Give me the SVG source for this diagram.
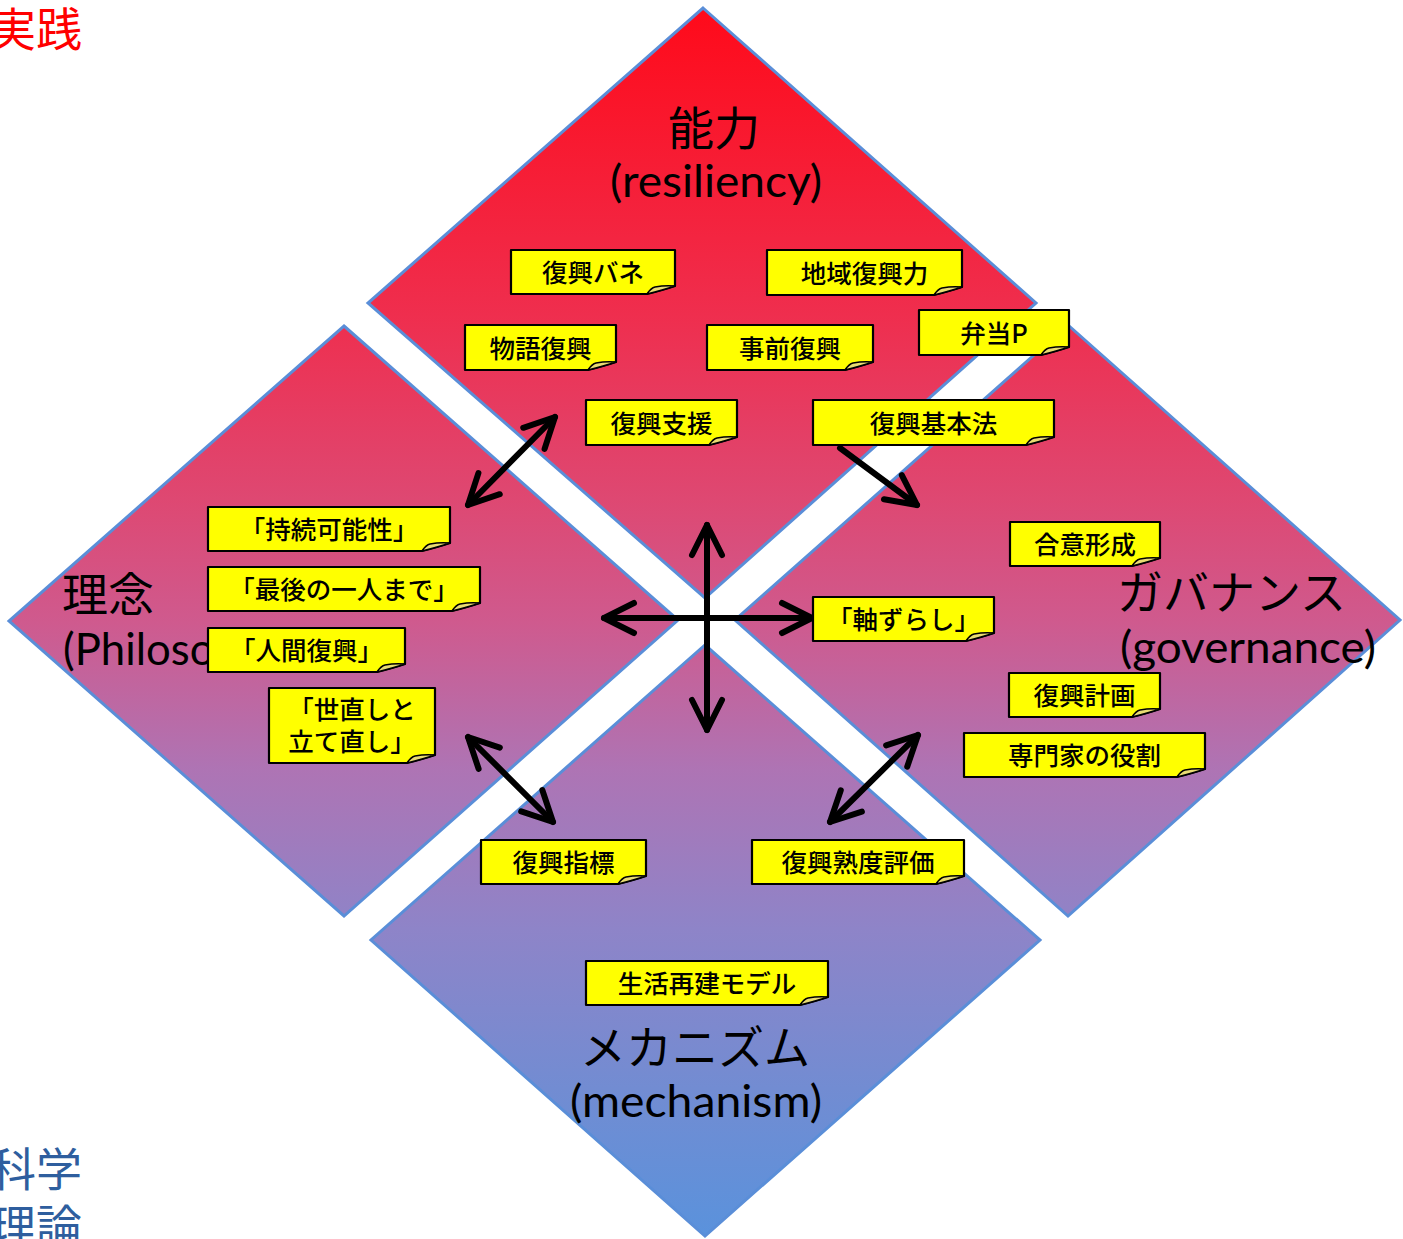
<svg xmlns="http://www.w3.org/2000/svg" width="1403" height="1239" viewBox="0 0 1403 1239">
<style>
.dia{fill:url(#g);stroke:#5a8ed8;stroke-width:3;stroke-linejoin:miter}
.note{fill:#ffff00;stroke:#000;stroke-width:2.2;stroke-linejoin:round}
.fold{fill:#e9dc72;stroke:#000;stroke-width:1.5;stroke-linejoin:round}
.nt{font-family:"Noto Sans CJK JP","Noto Sans",sans-serif;font-size:25.5px;font-weight:500;fill:#000;text-anchor:middle}
.jt{font-family:"Noto Sans CJK JP",sans-serif;font-size:46px;fill:#000}
.lt{font-family:Lato,"Open Sans",sans-serif;font-size:44px;fill:#000}
.cn{stroke:#000;stroke-width:6;stroke-linecap:round;fill:none}
</style>
<defs>
<linearGradient id="g" gradientUnits="userSpaceOnUse" x1="0" y1="8" x2="0" y2="1236">
<stop offset="0" stop-color="#ff0a1a"/>
<stop offset="0.25" stop-color="#ef2e4e"/>
<stop offset="0.4" stop-color="#de4872"/>
<stop offset="0.5" stop-color="#cf5a8e"/>
<stop offset="0.62" stop-color="#ae74b4"/>
<stop offset="0.75" stop-color="#8e84c8"/>
<stop offset="0.88" stop-color="#728cd2"/>
<stop offset="1" stop-color="#5a92dc"/>
</linearGradient>
<marker id="ah" viewBox="-36 -20 42 40" refX="0" refY="0" markerWidth="42" markerHeight="40" orient="auto-start-reverse" markerUnits="userSpaceOnUse">
<path d="M-30,-15 L0,0 L-30,15" fill="none" stroke="#000" stroke-width="6" stroke-linecap="round" stroke-linejoin="round"/>
</marker>
</defs>
<rect width="1403" height="1239" fill="#fff"/>

<g id="diamond-resiliency">
<path class="dia" d="M703,8 L1036,303 L705,598 L368,303 Z"/>
<text class="jt" x="714" y="145" text-anchor="middle">能力</text>
<text class="lt" x="610" y="197" textLength="212" lengthAdjust="spacingAndGlyphs">(resiliency)</text>
</g>
<g id="diamond-philosophy">
<path class="dia" d="M344,326 L678,620 L344,916 L9,621 Z"/>
<text class="jt" x="62" y="611">理念</text>
<text class="lt" x="63" y="665" textLength="233" lengthAdjust="spacingAndGlyphs">(Philosophy)</text>
</g>
<g id="diamond-governance">
<path class="dia" d="M1068,325 L1400,620 L1068,916 L735,620 Z"/>
<text class="jt" x="1117" y="609">ガバナンス</text>
<text class="lt" x="1120" y="663" textLength="256" lengthAdjust="spacingAndGlyphs">(governance)</text>
</g>
<g id="diamond-mechanism">
<path class="dia" d="M705,645 L1040,940 L705,1236 L371,940 Z"/>
<text class="jt" x="695" y="1064" text-anchor="middle">メカニズム</text>
<text class="lt" x="570" y="1117" textLength="252" lengthAdjust="spacingAndGlyphs">(mechanism)</text>
</g>

<g id="side-labels">
<text class="jt" x="82" y="46" text-anchor="end" style="fill:#ff0000">実践</text>
<text class="jt" text-anchor="end" style="fill:#2e5e9e"><tspan x="82" y="1186">科学</tspan><tspan x="82" y="1243">理論</tspan></text>
</g>

<g id="connectors">
<path class="cn" d="M468,505 L555,417" marker-start="url(#ah)" marker-end="url(#ah)"/>
<path class="cn" d="M840,448 L917,505" marker-end="url(#ah)"/>
<path class="cn" d="M707,525 L707,730" marker-start="url(#ah)" marker-end="url(#ah)"/>
<path class="cn" d="M604,618 L812,618" marker-start="url(#ah)" marker-end="url(#ah)"/>
<path class="cn" d="M468,737 L553,822" marker-start="url(#ah)" marker-end="url(#ah)"/>
<path class="cn" d="M918,735 L830,822" marker-start="url(#ah)" marker-end="url(#ah)"/>
</g>

<g id="n1"><path class="note" d="M511,250 H675 V286 Q663,290 647,294 H511 Z"/><path class="fold" d="M647,294 Q651,288 655,287 Q665,285 675,286 Q663,290 647,294 Z"/><text class="nt" x="593" y="282">復興バネ</text></g>
<g id="n2"><path class="note" d="M767,250 H962 V287 Q950,291 934,295 H767 Z"/><path class="fold" d="M934,295 Q938,289 942,288 Q952,286 962,287 Q950,291 934,295 Z"/><text class="nt" x="864.5" y="282.5">地域復興力</text></g>
<g id="n3"><path class="note" d="M919,310 H1069 V347 Q1057,351 1041,355 H919 Z"/><path class="fold" d="M1041,355 Q1045,349 1049,348 Q1059,346 1069,347 Q1057,351 1041,355 Z"/><text class="nt" x="994" y="342.5">弁当P</text></g>
<g id="n4"><path class="note" d="M465,325 H616 V362 Q604,366 588,370 H465 Z"/><path class="fold" d="M588,370 Q592,364 596,363 Q606,361 616,362 Q604,366 588,370 Z"/><text class="nt" x="540.5" y="357.5">物語復興</text></g>
<g id="n5"><path class="note" d="M707,325 H873 V362 Q861,366 845,370 H707 Z"/><path class="fold" d="M845,370 Q849,364 853,363 Q863,361 873,362 Q861,366 845,370 Z"/><text class="nt" x="790" y="357.5">事前復興</text></g>
<g id="n6"><path class="note" d="M586,400 H737 V437 Q725,441 709,445 H586 Z"/><path class="fold" d="M709,445 Q713,439 717,438 Q727,436 737,437 Q725,441 709,445 Z"/><text class="nt" x="661.5" y="432.5">復興支援</text></g>
<g id="n7"><path class="note" d="M813,400 H1054 V437 Q1042,441 1026,445 H813 Z"/><path class="fold" d="M1026,445 Q1030,439 1034,438 Q1044,436 1054,437 Q1042,441 1026,445 Z"/><text class="nt" x="933.5" y="432.5">復興基本法</text></g>
<g id="n8"><path class="note" d="M208,507 H450 V543 Q438,547 422,551 H208 Z"/><path class="fold" d="M422,551 Q426,545 430,544 Q440,542 450,543 Q438,547 422,551 Z"/><text class="nt" x="329" y="539">「持続可能性」</text></g>
<g id="n9"><path class="note" d="M208,567 H480 V603 Q468,607 452,611 H208 Z"/><path class="fold" d="M452,611 Q456,605 460,604 Q470,602 480,603 Q468,607 452,611 Z"/><text class="nt" x="344" y="599">「最後の一人まで」</text></g>
<g id="n10"><path class="note" d="M208,628 H405 V664 Q393,668 377,672 H208 Z"/><path class="fold" d="M377,672 Q381,666 385,665 Q395,663 405,664 Q393,668 377,672 Z"/><text class="nt" x="306.5" y="660">「人間復興」</text></g>
<g id="n11"><path class="note" d="M269,688 H435 V755 Q423,759 407,763 H269 Z"/><path class="fold" d="M407,763 Q411,757 415,756 Q425,754 435,755 Q423,759 407,763 Z"/><text class="nt"><tspan x="352" y="719">「世直しと</tspan><tspan x="352" y="751">立て直し」</tspan></text></g>
<g id="n12"><path class="note" d="M1010,522 H1160 V558 Q1148,562 1132,566 H1010 Z"/><path class="fold" d="M1132,566 Q1136,560 1140,559 Q1150,557 1160,558 Q1148,562 1132,566 Z"/><text class="nt" x="1085" y="554">合意形成</text></g>
<g id="n13"><path class="note" d="M813,597 H994 V633 Q982,637 966,641 H813 Z"/><path class="fold" d="M966,641 Q970,635 974,634 Q984,632 994,633 Q982,637 966,641 Z"/><text class="nt" x="903.5" y="629">「軸ずらし」</text></g>
<g id="n14"><path class="note" d="M1009,673 H1160 V709 Q1148,713 1132,717 H1009 Z"/><path class="fold" d="M1132,717 Q1136,711 1140,710 Q1150,708 1160,709 Q1148,713 1132,717 Z"/><text class="nt" x="1084.5" y="705">復興計画</text></g>
<g id="n15"><path class="note" d="M964,733 H1205 V769 Q1193,773 1177,777 H964 Z"/><path class="fold" d="M1177,777 Q1181,771 1185,770 Q1195,768 1205,769 Q1193,773 1177,777 Z"/><text class="nt" x="1084.5" y="765">専門家の役割</text></g>
<g id="n16"><path class="note" d="M481,840 H646 V876 Q634,880 618,884 H481 Z"/><path class="fold" d="M618,884 Q622,878 626,877 Q636,875 646,876 Q634,880 618,884 Z"/><text class="nt" x="563.5" y="872">復興指標</text></g>
<g id="n17"><path class="note" d="M752,840 H964 V876 Q952,880 936,884 H752 Z"/><path class="fold" d="M936,884 Q940,878 944,877 Q954,875 964,876 Q952,880 936,884 Z"/><text class="nt" x="858" y="872">復興熟度評価</text></g>
<g id="n18"><path class="note" d="M586,961 H828 V997 Q816,1001 800,1005 H586 Z"/><path class="fold" d="M800,1005 Q804,999 808,998 Q818,996 828,997 Q816,1001 800,1005 Z"/><text class="nt" x="707" y="993">生活再建モデル</text></g>
</svg>
